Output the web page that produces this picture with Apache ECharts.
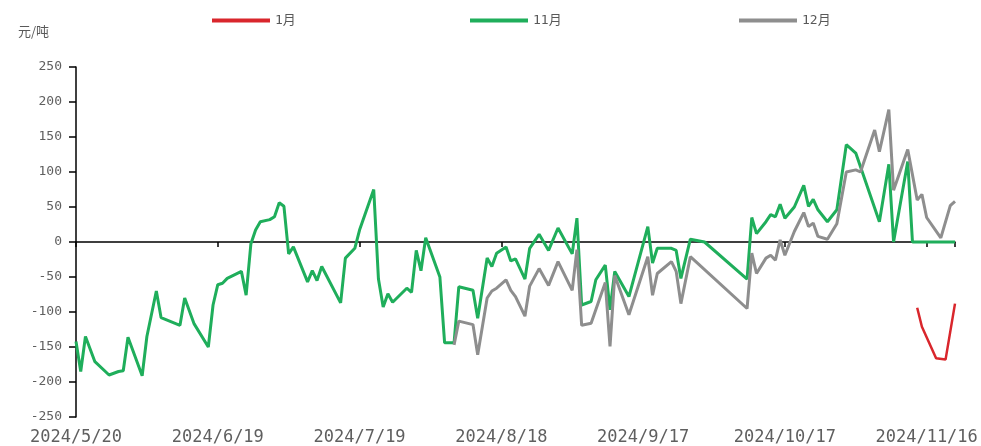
<!DOCTYPE html>
<html><head><meta charset="utf-8">
<script src="https://cdn.jsdelivr.net/npm/echarts@6/dist/echarts.min.js"></script>
<style>html,body{margin:0;padding:0;background:#fff}#c{width:981px;height:446px}</style>
</head><body><div id="c"></div>
<script>
const startDate = '2024-05-20';
const endDate = '2024-11-22';
const tickLabels = ['2024/5/20','2024/6/19','2024/7/19','2024/8/18','2024/9/17','2024/10/17','2024/11/16'];
const yTicks = [-250,-200,-150,-100,-50,0,50,100,150,200,250];

const nov1Dates = ['2024-05-20','2024-05-21','2024-05-22','2024-05-24','2024-05-27','2024-05-29','2024-05-30','2024-05-31',
'2024-06-03','2024-06-04','2024-06-06','2024-06-07','2024-06-11','2024-06-12','2024-06-14','2024-06-17','2024-06-18','2024-06-19',
'2024-06-20','2024-06-21','2024-06-24','2024-06-25','2024-06-26','2024-06-27','2024-06-28','2024-06-30','2024-07-01','2024-07-02',
'2024-07-03','2024-07-04','2024-07-05','2024-07-08','2024-07-09','2024-07-10','2024-07-11','2024-07-15','2024-07-16','2024-07-18',
'2024-07-19','2024-07-22','2024-07-23','2024-07-24','2024-07-25','2024-07-26','2024-07-29','2024-07-30','2024-07-31','2024-08-01',
'2024-08-02','2024-08-05','2024-08-06','2024-08-08','2024-08-09','2024-08-12','2024-08-13','2024-08-15','2024-08-16','2024-08-17',
'2024-08-19','2024-08-20','2024-08-21','2024-08-23','2024-08-24','2024-08-26','2024-08-28','2024-08-30','2024-09-02','2024-09-03',
'2024-09-04','2024-09-06','2024-09-07','2024-09-09','2024-09-10','2024-09-11','2024-09-14','2024-09-18','2024-09-19','2024-09-20',
'2024-09-23','2024-09-24','2024-09-25','2024-09-27','2024-09-30','2024-10-09','2024-10-10','2024-10-11','2024-10-13','2024-10-14',
'2024-10-15','2024-10-16','2024-10-17','2024-10-19','2024-10-21','2024-10-22','2024-10-23','2024-10-24','2024-10-26','2024-10-28',
'2024-10-30','2024-11-01','2024-11-06','2024-11-08','2024-11-09','2024-11-12','2024-11-13','2024-11-14','2024-11-15','2024-11-18',
'2024-11-19','2024-11-20','2024-11-21','2024-11-22'];
const nov1Values = [-142,-185,-135,-171,-190,-185,-184,-136,
-191,-135,-70,-108,-119,-80,-117,-150,-90,-61,
-59,-52,-42,-76,-3,17,29,32,36,56,
51,-17,-7,-57,-41,-55,-35,-87,-23,-9,
17,75,-53,-93,-74,-86,-66,-72,-12,-41,
6,-50,-144,-144,-64,-69,-109,-23,-35,-16,
-7,-27,-24,-53,-9,11,-12,20,-17,34,
-90,-85,-54,-33,-97,-42,-78,22,-30,-9,
-9,-12,-52,4,0,-53,35,12,29,39,
36,54,34,50,81,51,61,46,29,46,
139,127,29,111,0,115,0,0,0,0,
0,0,0,0];

const dec12Dates = ['2024-08-08','2024-08-09','2024-08-12','2024-08-13','2024-08-15','2024-08-16','2024-08-17','2024-08-19',
'2024-08-20','2024-08-21','2024-08-23','2024-08-24','2024-08-26','2024-08-28','2024-08-30','2024-09-02','2024-09-03','2024-09-04',
'2024-09-06','2024-09-09','2024-09-10','2024-09-11','2024-09-14','2024-09-18','2024-09-19','2024-09-20','2024-09-23','2024-09-24',
'2024-09-25','2024-09-27','2024-10-09','2024-10-10','2024-10-11','2024-10-13','2024-10-14','2024-10-15','2024-10-16','2024-10-17',
'2024-10-19','2024-10-21','2024-10-22','2024-10-23','2024-10-24','2024-10-26','2024-10-28','2024-10-30','2024-11-01','2024-11-02',
'2024-11-05','2024-11-06','2024-11-08','2024-11-09','2024-11-12','2024-11-14','2024-11-15','2024-11-16','2024-11-19','2024-11-21',
'2024-11-22'];
const dec12Values = [-147,-113,-118,-161,-80,-70,-66,-54,
-69,-78,-106,-63,-38,-62,-28,-69,-11,-119,
-116,-58,-149,-48,-104,-21,-76,-45,-28,-42,
-88,-21,-95,-16,-45,-23,-19,-26,3,-19,
15,42,22,27,8,4,26,100,103,100,
160,129,189,74,132,60,68,35,6,52,
58];

const jan1Dates = ['2024-11-14','2024-11-15','2024-11-18','2024-11-20','2024-11-22'];
const jan1Values = [-94,-121,-166,-168,-88];

const DAY = 86400000;
const off = d => Math.round((Date.parse(d) - Date.parse(startDate)) / DAY);
const pairs = (ds, vs) => ds.map((d, i) => [off(d), vs[i]]);
const xMax = off(endDate);

const labelFont = 'DejaVu Sans Mono';
const chart = echarts.init(document.getElementById('c'), null, {renderer: 'canvas'});
const legendCommon = {
  top: 9, itemWidth: 58, itemHeight: 4, icon: 'rect', itemGap: 0,
  textStyle: {fontSize: 13, color: '#595959', fontFamily: labelFont + ', Noto Sans CJK SC'}
};
chart.setOption({
  animation: false,
  backgroundColor: '#fff',
  grid: {left: 76, right: 26, top: 67, bottom: 29, containLabel: false},
  legend: [
    Object.assign({left: 207, data: ['1月']}, legendCommon),
    Object.assign({left: 465, data: ['11月']}, legendCommon),
    Object.assign({left: 734, data: ['12月']}, legendCommon)
  ],
  graphic: [{type: 'text', left: 18, top: 25, style: {text: '元/吨', fontSize: 13, fill: '#595959', fontFamily: 'Noto Sans CJK SC'}}],
  xAxis: [
    {type: 'value', min: 0, max: xMax, interval: 30, position: 'bottom',
     axisLine: {onZero: true, lineStyle: {color: '#000', width: 1.5}},
     axisTick: {show: true, length: 5, lineStyle: {color: '#000', width: 1.5}},
     axisLabel: {show: false}, splitLine: {show: false}},
    {type: 'value', min: 0, max: xMax, interval: 30, position: 'bottom', gridIndex: 0,
     axisLine: {show: false, onZero: false}, axisTick: {show: false}, splitLine: {show: false},
     axisLabel: {show: true, margin: 12, fontSize: 17, color: '#5f5f5f', fontFamily: labelFont,
       showMaxLabel: false,
       formatter: v => (v % 30 === 0 && tickLabels[v / 30]) ? tickLabels[v / 30] : ''}}
  ],
  yAxis: {type: 'value', min: yTicks[0], max: yTicks[yTicks.length - 1], interval: 50,
    axisLine: {show: true, onZero: false, lineStyle: {color: '#000', width: 1.5}},
    axisTick: {show: true, length: 7, lineStyle: {color: '#000', width: 1.5}},
    axisLabel: {margin: 14, fontSize: 13, color: '#5f5f5f', fontFamily: labelFont},
    splitLine: {show: false}},
  series: [
    {name: '1月', type: 'line', data: pairs(jan1Dates, jan1Values), symbol: 'none', xAxisIndex: 0,
     lineStyle: {color: '#d9262c', width: 2.5}, itemStyle: {color: '#d9262c'}},
    {name: '11月', type: 'line', data: pairs(nov1Dates, nov1Values), symbol: 'none', xAxisIndex: 0,
     lineStyle: {color: '#1fae5b', width: 3}, itemStyle: {color: '#1fae5b'}},
    {name: '12月', type: 'line', data: pairs(dec12Dates, dec12Values), symbol: 'none', xAxisIndex: 0,
     lineStyle: {color: '#8e8e8e', width: 3}, itemStyle: {color: '#8e8e8e'}}
  ]
});
</script></body></html>
